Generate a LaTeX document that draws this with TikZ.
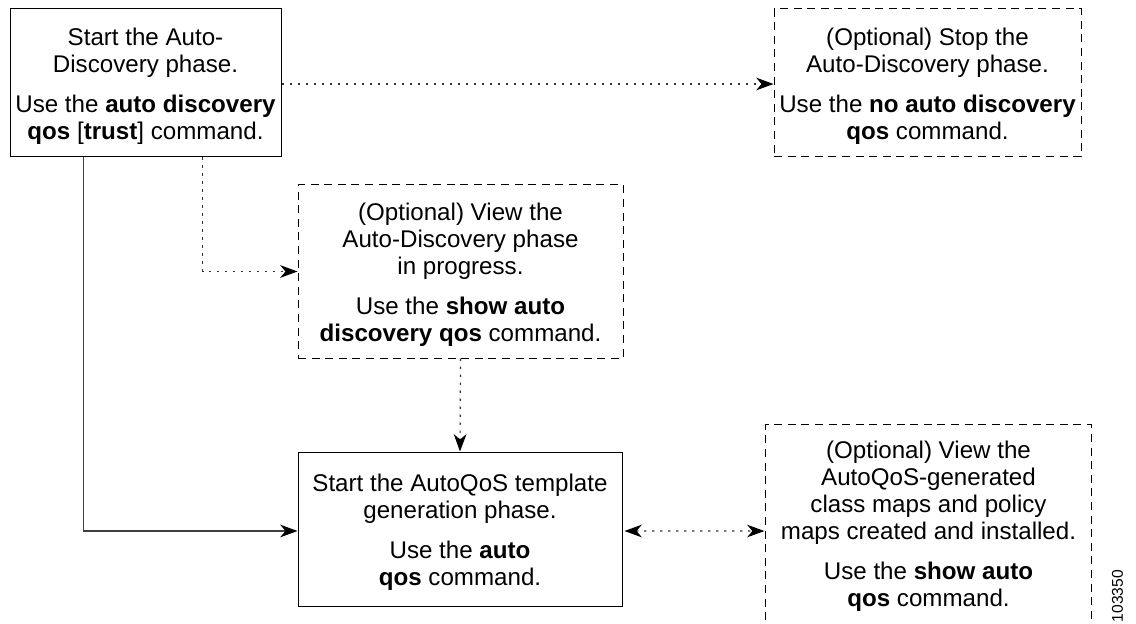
\documentclass[tikz,border=0pt]{standalone}
\usepackage{fontspec}
\setmainfont{Liberation Sans}
\usetikzlibrary{arrows.meta}
\newcommand{\bodyfont}{\fontsize{18.1pt}{20.2pt}\selectfont}
\newcommand{\toppad}{\rule{0pt}{18.5pt}}
\tikzset{
  px/.style={x=0.75pt,y=-0.75pt},
  flowbox/.style={draw=black,line width=0.75pt,fill=white,align=center,inner sep=0pt,font=\bodyfont},
  optbox/.style={flowbox,dash pattern=on 6pt off 4.2pt},
  openbox/.style={draw=none,align=center,inner sep=0pt,font=\bodyfont},
  openedge/.style={draw=black,line width=0.75pt,dash pattern=on 6pt off 4.2pt},
  solidlink/.style={draw=black!75,line width=0.9pt,-{Stealth[length=13pt,width=9.5pt,inset=4pt,color=black]}},
  dotlink/.style={draw=black!80,line width=0.9pt,dash pattern=on 1.8pt off 4.2pt,-{Stealth[length=13pt,width=9.5pt,inset=4pt,color=black]}},
  dotboth/.style={draw=black!80,line width=0.9pt,dash pattern=on 1.8pt off 4.2pt,{Stealth[length=13pt,width=9.5pt,inset=4pt,color=black]}-{Stealth[length=13pt,width=9.5pt,inset=4pt,color=black]}},
}
\begin{document}
\begin{tikzpicture}[px]
\useasboundingbox (0,0) rectangle (1136,624);
\node[flowbox,minimum width=203.25pt,minimum height=111pt] (A) at (145.5,83)
  {\toppad Start the Auto-\\Discovery phase.\\[10pt]Use the \textbf{auto discovery}\\\textbf{qos} [\textbf{trust}] command.};
\node[optbox,minimum width=230.25pt,minimum height=111pt] (B) at (927.5,83)
  {\toppad (Optional) Stop the\\Auto-Discovery phase.\\[10pt]Use the \textbf{no auto discovery}\\\textbf{qos} command.};
\node[optbox,minimum width=243.75pt,minimum height=129.75pt] (C) at (460.5,271.5)
  {\toppad (Optional) View the\\Auto-Discovery phase\\in progress.\\[10pt]Use the \textbf{show auto}\\\textbf{discovery qos} command.};
\node[flowbox,minimum width=243pt,minimum height=115.5pt] (D) at (460,529)
  {\toppad Start the AutoQoS template\\generation phase.\\[10pt]Use the \textbf{auto}\\\textbf{qos} command.};
\node[openbox,minimum width=243.75pt,minimum height=146.25pt] (E) at (928.5,522.5)
  {\toppad (Optional) View the\\AutoQoS-generated\\class maps and policy\\maps created and installed.\\[10pt]Use the \textbf{show auto}\\\textbf{qos} command.};
\draw[openedge] (E.south west) -- (E.north west) -- (E.north east) -- (E.south east);
\node[rotate=90,inner sep=0pt,font=\fontsize{11.7pt}{13pt}\selectfont] (N) at (1117.5,596) {103350};

\draw[dotlink] ([yshift=-0.75pt]A.east) -- ([yshift=-0.75pt]B.west);
\draw[solidlink] ([xshift=55.5pt]A.south west) |- ([yshift=-1.5pt]D.west);
\draw[dotlink] ([xshift=144.75pt]A.south west) |- (C.west);
\draw[dotlink] (C.south) -- (D.north);
\draw[dotboth] ([xshift=1.5pt,yshift=-1.5pt]D.east) -- ([xshift=-1pt,yshift=-6.4pt]E.west);
\end{tikzpicture}
\end{document}
